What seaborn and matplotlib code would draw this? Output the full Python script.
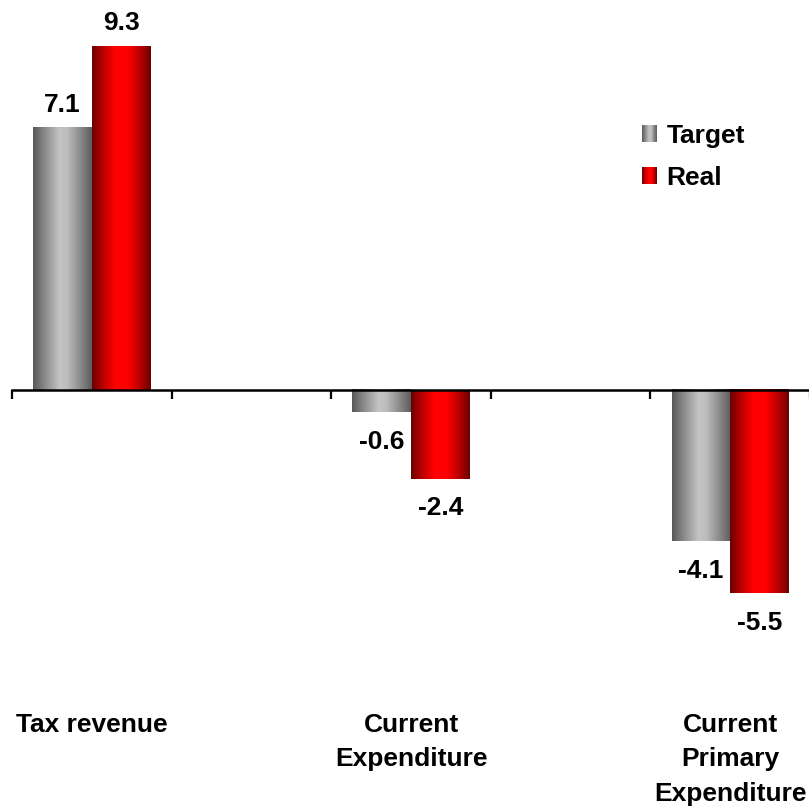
import numpy as np
import pandas as pd
import matplotlib
matplotlib.use("Agg")
import matplotlib.pyplot as plt
import matplotlib.transforms as mtransforms
from matplotlib.colors import LinearSegmentedColormap
from matplotlib.patches import Rectangle
from matplotlib.legend_handler import HandlerBase
import seaborn as sns

# Chart data
categories = ["Tax revenue", "Current\nExpenditure", "Current\nPrimary\nExpenditure"]
target = [7.1, -0.6, -4.1]
real = [9.3, -2.4, -5.5]
series = ["Target", "Real"]

# Empty spacer slots sit between the three groups on the axis
slots = [categories[0], " ", categories[1], "  ", categories[2]]

rows = []
for cat, t, r in zip(categories, target, real):
    rows.append({"category": cat, "series": "Target", "value": t})
    rows.append({"category": cat, "series": "Real", "value": r})
df = pd.DataFrame(rows)

sns.set_style("white")
plt.rcParams["font.family"] = ["Liberation Sans", "DejaVu Sans"]
plt.rcParams["font.weight"] = "bold"
plt.rcParams["text.color"] = "black"

W, H, DPI = 809, 807, 100
fig = plt.figure(figsize=(W / DPI, H / DPI), dpi=DPI)
ax = fig.add_axes([12 / W, 0, 798 / W, 1])

base_colors = {"Target": "#a0a0a0", "Real": "#ff0000"}
sns.barplot(data=df, x="category", y="value", hue="series", order=slots,
            hue_order=series, palette=base_colors, width=0.735,
            saturation=1, legend=False, ax=ax, edgecolor="none", linewidth=0)

# Cylinder-like shading for each series
cmaps = {
    "Target": LinearSegmentedColormap.from_list(
        "target_shade",
        [(0.0, "#575757"), (0.2, "#8a8a8a"), (0.45, "#c4c4c4"),
         (0.58, "#bdbdbd"), (0.8, "#8c8c8c"), (1.0, "#5c5c5c")]),
    "Real": LinearSegmentedColormap.from_list(
        "real_shade",
        [(0.0, "#6a0000"), (0.2, "#c00000"), (0.4, "#ff0000"),
         (0.6, "#ff0000"), (0.8, "#c00000"), (1.0, "#6a0000")]),
}
grad = np.linspace(0, 1, 256).reshape(1, -1)

scale = 36.95  # pixels per unit
ymax = 390 / scale
ymin = -(H - 390) / scale

for name, container in zip(series, ax.containers):
    for bar in container:
        h = bar.get_height()
        if not np.isfinite(h):
            continue
        x0 = bar.get_x()
        x1 = x0 + bar.get_width()
        y0, y1 = sorted([0, h])
        ax.imshow(grad, cmap=cmaps[name], extent=(x0, x1, y0, y1),
                  aspect="auto", interpolation="bilinear", zorder=2)
        bar.set_facecolor("none")
        if h >= 0:
            ax.annotate(f"{h:.1f}", (x0 + bar.get_width() / 2, h),
                        xytext=(0, 8), textcoords="offset points",
                        ha="center", va="bottom", fontsize=19,
                        fontweight="bold", color="black")
        else:
            ax.annotate(f"{h:.1f}", (x0 + bar.get_width() / 2, h),
                        xytext=(0, -12.5), textcoords="offset points",
                        ha="center", va="top", fontsize=19,
                        fontweight="bold", color="black")

ax.set_xlim(-0.5, len(slots) - 0.5)
ax.set_ylim(ymin, ymax)

# Axis at zero with tick marks on the slot boundaries
for side in ["top", "right", "left"]:
    ax.spines[side].set_visible(False)
ax.spines["bottom"].set_position(("data", 0))
ax.spines["bottom"].set_linewidth(1.8)
ax.spines["bottom"].set_color("black")
ax.spines["bottom"].set_zorder(3)
ax.set_yticks([])
ax.set_xticks(np.arange(-0.5, len(slots), 1.0))
ax.set_xticklabels([])
ax.tick_params(axis="x", direction="out", length=6.5, width=1.6,
               color="black", bottom=True)
ax.set_xlabel("")
ax.set_ylabel("")

# Category names below the plot
tr = mtransforms.blended_transform_factory(ax.transData, fig.transFigure)
for i, name in enumerate(slots):
    if name.strip():
        ax.text(i, 1 - 713 / H, name, transform=tr, ha="center", va="top",
                fontsize=19, fontweight="bold", linespacing=1.55,
                multialignment="center", color="black")


class GradientSquare(HandlerBase):
    def __init__(self, cmap):
        super().__init__()
        self.cmap = cmap

    def create_artists(self, legend, orig_handle, xdescent, ydescent,
                       width, height, fontsize, trans):
        n = 16
        arts = []
        for k in range(n):
            c = self.cmap((k + 0.5) / n)
            arts.append(Rectangle((-xdescent + k * width / n, -ydescent),
                                  width / n + 0.05, height, facecolor=c,
                                  edgecolor="none", lw=0, transform=trans))
        return arts


handles = [Rectangle((0, 0), 1, 1, label=s) for s in series]
leg = fig.legend(handles, series, loc="upper left",
                 bbox_to_anchor=(642 / W, 1 - 124 / H),
                 frameon=False, fontsize=19, handlelength=0.58,
                 handleheight=0.58, handletextpad=0.35, labelspacing=0.68,
                 borderpad=0, borderaxespad=0,
                 handler_map={h: GradientSquare(cmaps[s])
                              for h, s in zip(handles, series)},
                 prop={"weight": "bold", "size": 19})
for t in leg.get_texts():
    t.set_color("black")

fig.savefig("out.png", dpi=DPI)
